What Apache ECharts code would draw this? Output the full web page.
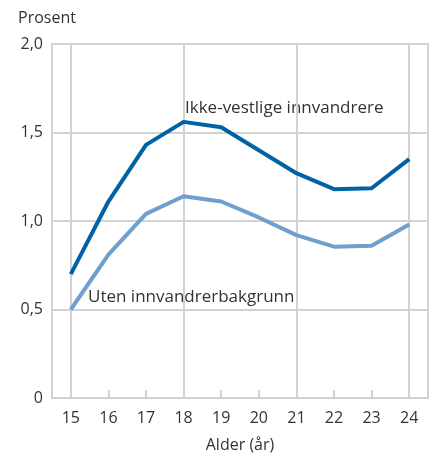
<!DOCTYPE html>
<html>
<head>
<meta charset="utf-8">
<script src="https://cdn.jsdelivr.net/npm/echarts@6/dist/echarts.min.js"></script>
<style>
  html, body { margin: 0; padding: 0; background: #fff; }
  #chart { width: 437px; height: 453px; }
</style>
</head>
<body>
<div id="chart"></div>
<script>
var ages = ['15', '16', '17', '18', '19', '20', '21', '22', '23', '24'];
var ikkeVestlige = [0.70, 1.11, 1.43, 1.56, 1.53, 1.40, 1.27, 1.18, 1.185, 1.35];
var utenBakgrunn = [0.50, 0.81, 1.04, 1.14, 1.11, 1.02, 0.92, 0.855, 0.86, 0.98];
var seriesNames = ['Ikke-vestlige innvandrere', 'Uten innvandrerbakgrunn'];

var font = '"Open Sans", sans-serif';
var gridColor = '#d2d2d2';

var chart = echarts.init(document.getElementById('chart'));
chart.setOption({
  animation: false,
  grid: {
    left: 52,
    right: 9,
    top: 44,
    bottom: 55,
    outerBoundsMode: 'none',
    containLabel: false,
    show: true,
    borderColor: gridColor,
    borderWidth: 2
  },
  xAxis: {
    type: 'category',
    data: ages,
    boundaryGap: true,
    name: 'Alder (år)',
    nameLocation: 'middle',
    nameGap: 39,
    nameTextStyle: { color: '#333', fontSize: 16, fontFamily: font },
    axisLine: { lineStyle: { color: gridColor, width: 2 } },
    axisTick: {
      show: true,
      inside: true,
      length: 8,
      alignWithLabel: true,
      lineStyle: { color: gridColor, width: 2 }
    },
    axisLabel: { color: '#333', fontSize: 16, fontFamily: font, margin: 12, interval: 0 },
    splitLine: {
      show: true,
      alignWithLabel: true,
      interval: 2,
      lineStyle: { color: gridColor, width: 2 }
    }
  },
  yAxis: {
    type: 'value',
    min: 0,
    max: 2,
    interval: 0.5,
    name: 'Prosent',
    nameLocation: 'end',
    nameGap: 18,
    nameTextStyle: { color: '#333', fontSize: 16, fontFamily: font, align: 'left', padding: [0, 0, 0, -34] },
    axisLine: { show: true, lineStyle: { color: gridColor, width: 2 } },
    axisTick: { show: false },
    axisLabel: {
      color: '#333',
      fontSize: 16,
      fontFamily: font,
      margin: 9,
      formatter: function (v) {
        return v === 0 ? '0' : v.toFixed(1).replace('.', ',');
      }
    },
    splitLine: { show: true, lineStyle: { color: gridColor, width: 2 } }
  },
  series: [
    {
      name: seriesNames[0],
      type: 'line',
      data: ikkeVestlige,
      symbol: 'none',
      lineStyle: { color: '#0062a6', width: 4 },
      z: 3
    },
    {
      name: seriesNames[1],
      type: 'line',
      data: utenBakgrunn,
      symbol: 'none',
      lineStyle: { color: '#6f9fce', width: 4 },
      z: 2
    }
  ],
  graphic: [
    {
      type: 'text',
      left: 185,
      top: 100,
      style: { text: seriesNames[0], fill: '#333', font: '17px ' + font }
    },
    {
      type: 'text',
      left: 88,
      top: 289,
      style: { text: seriesNames[1], fill: '#333', font: '17px ' + font }
    }
  ]
});
</script>
</body>
</html>
